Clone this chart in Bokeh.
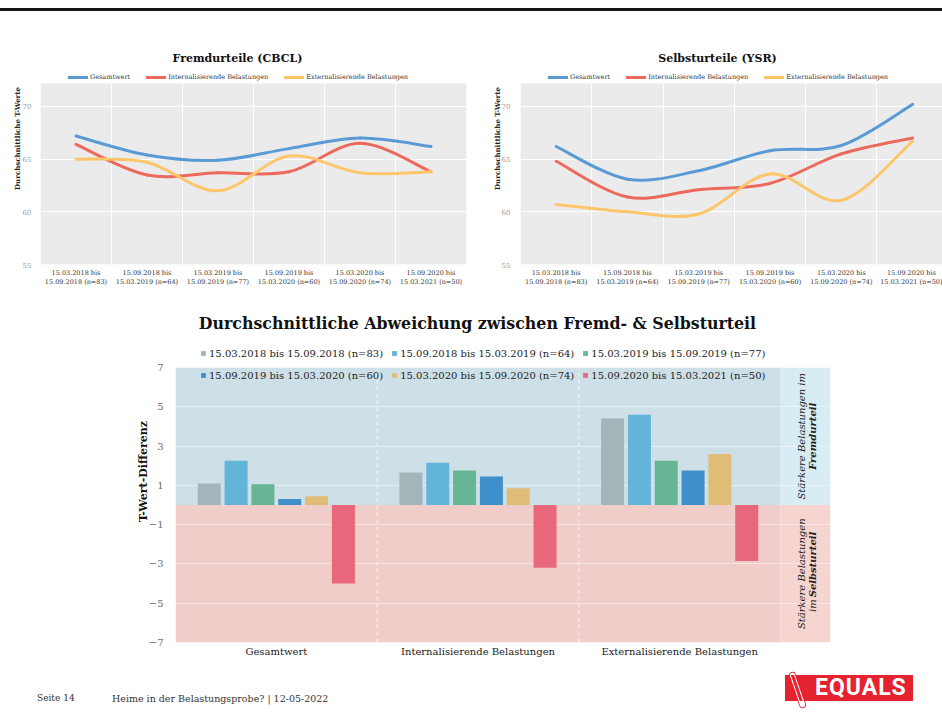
import math
from bokeh.plotting import figure
from bokeh.models import (Range1d, FixedTicker, Legend, LegendItem, Label,
                          ColumnDataSource, BoxAnnotation, Div)
from bokeh.layouts import column, row
from bokeh.embed import file_html
from bokeh.resources import INLINE

SERIF = "DejaVu Serif"

# ---------------- data ----------------
period_ticks = [
    "15.03.2018 bis\n15.09.2018 (n=83)",
    "15.09.2018 bis\n15.03.2019 (n=64)",
    "15.03.2019 bis\n15.09.2019 (n=77)",
    "15.09.2019 bis\n15.03.2020 (n=60)",
    "15.03.2020 bis\n15.09.2020 (n=74)",
    "15.09.2020 bis\n15.03.2021 (n=50)",
]
period_legend = [
    "15.03.2018 bis 15.09.2018 (n=83)",
    "15.09.2018 bis 15.03.2019 (n=64)",
    "15.03.2019 bis 15.09.2019 (n=77)",
    "15.09.2019 bis 15.03.2020 (n=60)",
    "15.03.2020 bis 15.09.2020 (n=74)",
    "15.09.2020 bis 15.03.2021 (n=50)",
]
line_series = ["Gesamtwert", "Internalisierende Belastungen", "Externalisierende Belastungen"]
line_colors = ["#5b9bd5", "#ec6a5c", "#fdc66a"]

cbcl_gesamt = [67.2, 65.4, 64.9, 66.0, 67.0, 66.2]
cbcl_intern = [66.4, 63.5, 63.7, 63.8, 66.5, 63.8]
cbcl_extern = [65.0, 64.7, 62.0, 65.3, 63.7, 63.8]

ysr_gesamt = [66.2, 63.1, 63.9, 65.8, 66.3, 70.2]
ysr_intern = [64.8, 61.4, 62.1, 62.7, 65.5, 67.0]
ysr_extern = [60.7, 60.0, 59.8, 63.6, 61.1, 66.7]

y_ticks_line = [55, 60, 65, 70]

diff_categories = ["Gesamtwert", "Internalisierende Belastungen", "Externalisierende Belastungen"]
diff_p1 = [1.10, 1.65, 4.40]
diff_p2 = [2.25, 2.15, 4.60]
diff_p3 = [1.05, 1.75, 2.25]
diff_p4 = [0.30, 1.45, 1.75]
diff_p5 = [0.45, 0.85, 2.60]
diff_p6 = [-4.00, -3.20, -2.85]
bar_colors = ["#a4b5ba", "#62b4d9", "#68b595", "#3e8fca", "#dfbd77", "#e8677a"]
y_ticks_diff = [-7, -5, -3, -1, 1, 3, 5, 7]


# ---------------- helpers ----------------
def bezier_source(xs, ys, k=1.0 / 6.0):
    n = len(xs)
    d = dict(x0=[], y0=[], x1=[], y1=[], cx0=[], cy0=[], cx1=[], cy1=[])
    for i in range(n - 1):
        i0 = max(i - 1, 0)
        i3 = min(i + 2, n - 1)
        d["x0"].append(xs[i]); d["y0"].append(ys[i])
        d["x1"].append(xs[i + 1]); d["y1"].append(ys[i + 1])
        d["cx0"].append(xs[i] + (xs[i + 1] - xs[i0]) * k)
        d["cy0"].append(ys[i] + (ys[i + 1] - ys[i0]) * k)
        d["cx1"].append(xs[i + 1] - (xs[i3] - xs[i]) * k)
        d["cy1"].append(ys[i + 1] - (ys[i3] - ys[i]) * k)
    return ColumnDataSource(d)


def style_axis(ax):
    ax.axis_line_color = None
    ax.major_tick_line_color = None
    ax.minor_tick_line_color = None
    ax.major_tick_out = 0
    ax.major_tick_in = 0
    ax.minor_tick_out = 0
    ax.minor_tick_in = 0


def line_chart(title, series, width, min_left, min_right, x_end, title_x,
               tick_standoff, label_standoff):
    n = len(period_ticks)
    p = figure(width=width, height=288, x_range=Range1d(0, x_end), y_range=Range1d(55, 78.92),
               output_backend="svg", toolbar_location=None, title=None,
               min_border_left=min_left, min_border_right=min_right,
               min_border_top=0, min_border_bottom=36,
               background_fill_color="white", border_fill_color="white",
               outline_line_color=None)
    # grey plotting panel
    p.add_layout(BoxAnnotation(top=72.18, fill_color="#ebebeb", fill_alpha=1,
                               line_color=None, level="image"))

    p.add_layout(Label(x=title_x, y=74.6, text=title, text_font=SERIF, text_font_size="11px",
                       text_font_style="bold", text_color="#111111",
                       text_align="center", text_baseline="middle"))

    xs = [i + 0.5 for i in range(n)]
    items = []
    for name, vals, col in zip(line_series, series, line_colors):
        r = p.bezier(x0="x0", y0="y0", x1="x1", y1="y1", cx0="cx0", cy0="cy0",
                     cx1="cx1", cy1="cy1", source=bezier_source(xs, vals),
                     line_color=col, line_width=3, line_cap="round")
        items.append(LegendItem(label=name, renderers=[r]))

    lg = Legend(items=items, orientation="horizontal", location=(28, 183),
                border_line_color=None, background_fill_alpha=0,
                label_text_font=SERIF, label_text_font_size="6.5px", label_text_color="#333333",
                glyph_width=20, glyph_height=8, label_standoff=2, spacing=16,
                padding=0, margin=0, label_height=8)
    p.add_layout(lg, "center")

    p.xaxis.ticker = FixedTicker(ticks=xs)
    p.xaxis.major_label_overrides = {x: lab for x, lab in zip(xs, period_ticks)}
    p.xaxis.major_label_text_font = SERIF
    p.xaxis.major_label_text_font_size = "6.5px"
    p.xaxis.major_label_text_color = "#333333"
    p.xaxis.major_label_standoff = 4
    style_axis(p.xaxis[0])

    p.yaxis.ticker = FixedTicker(ticks=y_ticks_line)
    p.yaxis.major_label_text_font = SERIF
    p.yaxis.major_label_text_font_size = "7px"
    p.yaxis.major_label_text_color = "#9a9a9a"
    p.yaxis.major_label_standoff = tick_standoff
    style_axis(p.yaxis[0])
    p.yaxis.axis_label = "Durchschnittliche T-Werte"
    p.yaxis.axis_label_text_font = SERIF
    p.yaxis.axis_label_text_font_size = "7px"
    p.yaxis.axis_label_text_font_style = "bold"
    p.yaxis.axis_label_text_color = "#222222"
    p.yaxis.axis_label_standoff = label_standoff

    p.ygrid.grid_line_color = "white"
    p.ygrid.grid_line_width = 1
    p.xgrid.ticker = FixedTicker(ticks=list(range(1, n)))
    p.xgrid.grid_line_color = "white"
    p.xgrid.grid_line_width = 1
    return p


# ---------------- header line ----------------
head_html = ('<div style="position:relative;width:942px;height:12px;">'
             '<div style="position:absolute;left:0;top:8px;width:942px;height:3px;'
             'background:#161616;"></div></div>')
head = Div(text=head_html, width=942, height=12, margin=0)

# ---------------- top charts ----------------
left = line_chart("Fremdurteile (CBCL)", [cbcl_gesamt, cbcl_intern, cbcl_extern],
                  480, 40, 14, 6, 2.775, 9, -2)
right = line_chart("Selbsturteile (YSR)", [ysr_gesamt, ysr_intern, ysr_extern],
                   462, 40, 0, 5.919, 2.763, 10, -3)

# ---------------- bottom chart ----------------
ncat = len(diff_categories)
strip = 0.248
ylo, yhi = min(y_ticks_diff), max(y_ticks_diff)
p3 = figure(width=942, height=365, x_range=Range1d(0, ncat + strip), y_range=Range1d(ylo, 10.41),
            output_backend="svg", toolbar_location=None, title=None,
            min_border_left=175, min_border_right=112, min_border_top=0, min_border_bottom=23,
            background_fill_color="white", border_fill_color="white", outline_line_color=None)

p3.add_layout(BoxAnnotation(bottom=0, top=yhi, right=ncat, fill_color="#cde0e8", fill_alpha=1,
                            line_color=None, level="image"))
p3.add_layout(BoxAnnotation(top=0, right=ncat, fill_color="#f0cdc9", fill_alpha=1,
                            line_color=None, level="image"))
p3.add_layout(BoxAnnotation(bottom=0, top=yhi, left=ncat, fill_color="#d8ecf3", fill_alpha=1,
                            line_color=None, level="image"))
p3.add_layout(BoxAnnotation(top=0, left=ncat, fill_color="#f6d4cf", fill_alpha=1,
                            line_color=None, level="image"))
bounds = list(range(1, ncat))
p3.segment(x0=bounds, y0=[ylo] * len(bounds), x1=bounds, y1=[yhi] * len(bounds),
           line_color="white", line_alpha=0.75, line_dash="4 3", line_width=1, level="underlay")

p3.add_layout(Label(x=1.4975, y=9.24, text="Durchschnittliche Abweichung zwischen Fremd- & Selbsturteil",
                    text_font=SERIF, text_font_size="15.8px", text_font_style="bold",
                    text_color="#111111", text_align="center", text_baseline="middle"))

diffs = [diff_p1, diff_p2, diff_p3, diff_p4, diff_p5, diff_p6]
step = 0.133
bw = 0.114
bar_items = []
for j, (vals, col, lab) in enumerate(zip(diffs, bar_colors, period_legend)):
    xs = [c + 0.5 + (j - (len(diffs) - 1) / 2) * step for c in range(ncat)]
    r = p3.vbar(x=xs, top=vals, bottom=0, width=bw, fill_color=col, line_color=None)
    bar_items.append(LegendItem(label=lab, renderers=[r]))

lg3 = Legend(items=bar_items, orientation="horizontal", nrows=2, location=(25, 260),
             border_line_color=None, background_fill_alpha=0,
             label_text_font=SERIF, label_text_font_size="10px", label_text_color="#222222",
             glyph_width=6, glyph_height=6, label_standoff=3, spacing=8,
             padding=0, margin=0, label_height=14)
p3.add_layout(lg3, "center")

p3.xaxis.ticker = FixedTicker(ticks=[c + 0.5 for c in range(ncat)])
p3.xaxis.major_label_overrides = {c + 0.5: lab for c, lab in enumerate(diff_categories)}
p3.xaxis.major_label_text_font = SERIF
p3.xaxis.major_label_text_font_size = "10px"
p3.xaxis.major_label_text_color = "#222222"
p3.xaxis.major_label_standoff = 3
style_axis(p3.xaxis[0])

p3.yaxis.ticker = FixedTicker(ticks=y_ticks_diff)
p3.yaxis.major_label_text_font = SERIF
p3.yaxis.major_label_text_font_size = "10px"
p3.yaxis.major_label_text_color = "#6d6d6d"
p3.yaxis.major_label_standoff = 12
style_axis(p3.yaxis[0])
p3.yaxis.axis_label = "T-Wert-Differenz"
p3.yaxis.axis_label_text_font = SERIF
p3.yaxis.axis_label_text_font_size = "11px"
p3.yaxis.axis_label_text_font_style = "bold"
p3.yaxis.axis_label_text_color = "#111111"
p3.yaxis.axis_label_standoff = -4

p3.xgrid.visible = False
p3.ygrid.grid_line_color = "white"
p3.ygrid.grid_line_alpha = 0.45

x1 = ncat + strip * 0.43
x2 = ncat + strip * 0.65
up = yhi / 2
dn = ylo / 2
common = dict(angle=math.pi / 2, text_font=SERIF, text_font_size="10px",
              text_color="#222222", text_baseline="middle")
p3.add_layout(Label(x=x1, y=up, text="Stärkere Belastungen im", text_align="center",
                    text_font_style="italic", **common))
p3.add_layout(Label(x=x2, y=up, text="Fremdurteil", text_align="center",
                    text_font_style="bold italic", **common))
p3.add_layout(Label(x=x1, y=dn, text="Stärkere Belastungen", text_align="center",
                    text_font_style="italic", **common))
p3.add_layout(Label(x=x2, y=dn - 1.95, text="im ", text_align="left",
                    text_font_style="italic", **common))
p3.add_layout(Label(x=x2, y=dn - 1.2, text="Selbsturteil", text_align="left",
                    text_font_style="bold italic", **common))

# ---------------- footer ----------------
footer_html = """
<div style="position:relative;width:942px;height:56px;font-family:'DejaVu Serif',serif;color:#333;">
  <span style="position:absolute;left:37px;top:27px;font-size:9px;white-space:nowrap;">Seite 14</span>
  <span style="position:absolute;left:112px;top:27px;font-size:9.5px;white-space:nowrap;">Heime in der Belastungsprobe? | 12-05-2022</span>
  <div style="position:absolute;left:785px;top:10px;width:128px;height:26px;background:#e5222f;"></div>
  <div style="position:absolute;left:795px;top:7px;width:5px;height:36px;border:1.5px solid white;
              border-radius:3px;box-shadow:0 0 0 1px #e5222f;transform:rotate(-19deg);"></div>
  <span style="position:absolute;left:815px;top:10px;height:26px;line-height:26px;font-family:Roboto,sans-serif;
               font-weight:bold;font-size:23px;color:white;letter-spacing:1px;white-space:nowrap;">EQUALS</span>
</div>
"""
foot = Div(text=footer_html, width=942, height=56, margin=0)

layout = column(head, row(left, right), p3, foot)
open("out.html", "w").write(file_html(layout, INLINE))
